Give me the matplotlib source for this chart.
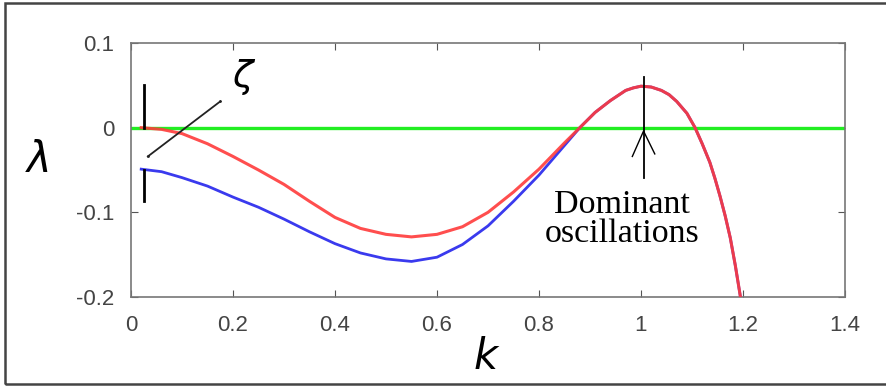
import matplotlib
matplotlib.use("Agg")
import matplotlib.pyplot as plt
from matplotlib.patches import Rectangle

# growth rate curves
k_red = [0.02, 0.06, 0.10, 0.15, 0.20, 0.25, 0.30, 0.35, 0.40, 0.45, 0.50, 0.55,
         0.60, 0.65, 0.70, 0.75, 0.80, 0.85, 0.88, 0.91, 0.94, 0.97, 0.985, 1.00,
         1.02, 1.04, 1.055, 1.07, 1.09, 1.106, 1.12, 1.135, 1.145, 1.155, 1.165,
         1.175, 1.185, 1.195]
lam_red = [0.0, -0.002, -0.007, -0.019, -0.034, -0.050, -0.067, -0.087, -0.106,
           -0.119, -0.126, -0.129, -0.126, -0.117, -0.100, -0.076, -0.049, -0.018,
           0.000, 0.018, 0.032, 0.044, 0.047, 0.049, 0.048, 0.044, 0.039, 0.031,
           0.017, 0.0, -0.019, -0.041, -0.060, -0.081, -0.104, -0.130, -0.163,
           -0.200]

k_blue = [0.02, 0.06, 0.10, 0.15, 0.20, 0.25, 0.30, 0.35, 0.40, 0.45, 0.50, 0.55,
          0.60, 0.65, 0.70, 0.75, 0.80, 0.85, 0.88, 0.91, 0.94, 0.97, 0.985, 1.00,
          1.02, 1.04, 1.055, 1.07, 1.09, 1.106, 1.12, 1.135, 1.145, 1.155, 1.165,
          1.175, 1.185, 1.195]
lam_blue = [-0.049, -0.052, -0.059, -0.069, -0.082, -0.094, -0.108, -0.123, -0.137,
            -0.148, -0.155, -0.158, -0.153, -0.138, -0.116, -0.087, -0.056, -0.021,
            0.000, 0.018, 0.032, 0.044, 0.047, 0.049, 0.048, 0.044, 0.039, 0.031,
            0.017, 0.0, -0.019, -0.041, -0.060, -0.081, -0.104, -0.130, -0.163,
            -0.200]

x_ticks = [0, 0.2, 0.4, 0.6, 0.8, 1.0, 1.2, 1.4]
x_labels = ["0", "0.2", "0.4", "0.6", "0.8", "1", "1.2", "1.4"]
y_ticks = [-0.2, -0.1, 0, 0.1]
y_labels = ["-0.2", "-0.1", "0", "0.1"]

# annotation marks
zeta_bar_k = 0.025
zeta_bar_top = (0.0, 0.05)
zeta_bar_bottom = (-0.087, -0.05)
zeta_line_k = [0.033, 0.175]
zeta_line_lam = [-0.034, 0.031]
peak_k = 1.005

fig = plt.figure(figsize=(8.87, 3.90), dpi=100)
ax = fig.add_axes([131 / 887, 1 - 297 / 390, 714 / 887, 254 / 390])

ax.axhline(0, color="#22ee22", lw=2.4, zorder=2)
ax.plot(k_blue, lam_blue, color="#3a3aee", lw=2.0, zorder=3,
        solid_joinstyle="round")
ax.plot(k_red, lam_red, color="#ff3b3b", lw=2.2, alpha=0.9, zorder=4,
        solid_joinstyle="round")

# zeta marker
ax.plot([zeta_bar_k, zeta_bar_k], zeta_bar_top, color="black", lw=2.0, zorder=5)
ax.plot([zeta_bar_k, zeta_bar_k], zeta_bar_bottom, color="black", lw=2.0, zorder=5)
ax.plot(zeta_line_k, zeta_line_lam, color="#222222", lw=1.3, ls="-",
        marker=".", markersize=2, zorder=5)
ax.text(0.222, 0.06, r"$\zeta$", fontsize=27, ha="center", va="center")

# dominant oscillations arrow
ax.plot([peak_k, peak_k], [0.06, -0.059], color="black", lw=1.3, zorder=5)
ax.plot([peak_k - 0.022, peak_k, peak_k + 0.022], [-0.034, -0.004, -0.031],
        color="black", lw=1.0, zorder=5)
ax.text(0.963, -0.108, "Dominant\noscillations", fontsize=24.5,
        family="Liberation Serif", ha="center", va="center", linespacing=0.95)

ax.set_xlim(0, 1.4)
ax.set_ylim(-0.2, 0.1)
ax.set_xticks(x_ticks)
ax.set_xticklabels(x_labels)
ax.set_yticks(y_ticks)
ax.set_yticklabels(y_labels)
ax.tick_params(direction="in", length=5, top=True, right=True, color="#555555",
               labelsize=16, labelcolor="#444444")
ax.tick_params(axis="x", pad=13)
ax.tick_params(axis="y", pad=12)
for lab in ax.get_xticklabels() + ax.get_yticklabels():
    lab.set_family("Liberation Sans")
for side in ["left", "bottom", "top", "right"]:
    ax.spines[side].set_color("#777777")
    ax.spines[side].set_linewidth(1.2)

fig.text(37 / 887, 1 - 160 / 390, r"$\lambda$", fontsize=30, ha="center", va="center")
fig.text(487 / 887, 1 - 357 / 390, r"$k$", fontsize=30, ha="center", va="center")

# outer frame (right edge falls outside the image)
fig.patches.append(Rectangle((5 / 887, 1 - 384 / 390), 1.05, 381 / 390,
                             transform=fig.transFigure, fill=False,
                             edgecolor="#444444", lw=1.8))

fig.savefig("out.png", dpi=100)
